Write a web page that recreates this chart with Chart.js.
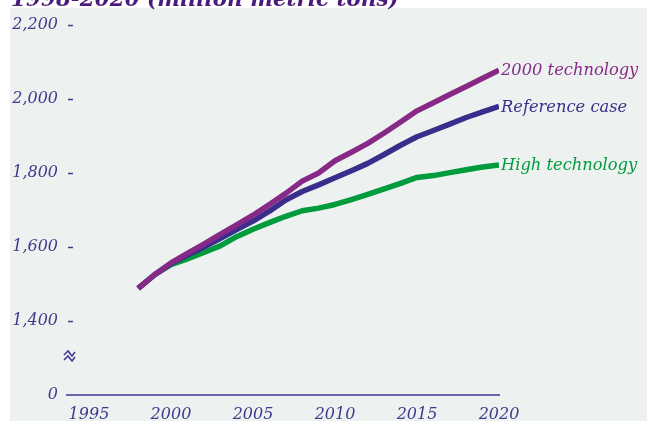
<!DOCTYPE html>
<html>
<head>
<meta charset="utf-8">
<script src="https://cdn.jsdelivr.net/npm/chart.js@4.4.1/dist/chart.umd.min.js"></script>
<style>
  html, body { margin: 0; padding: 0; background: #ffffff; }
  #wrap { width: 647px; height: 421px; position: relative; }
</style>
</head>
<body>
<div id="wrap"><canvas id="chart" width="647" height="421"></canvas></div>
<script>
// values (million metric tons)
var years = [1998,1999,2000,2001,2002,2003,2004,2005,2006,2007,2008,2009,2010,2011,2012,2013,2014,2015,2016,2017,2018,2019,2020]
var tech2000 = [1488,1525,1557,1583,1608,1634,1660,1686,1715,1745,1778,1800,1833,1856,1880,1908,1938,1968,1990,2012,2034,2056,2078]
var reference = [1488,1525,1555,1578,1600,1623,1647,1670,1697,1727,1750,1768,1787,1806,1826,1850,1875,1898,1915,1932,1950,1965,1980]
var highTech = [1488,1525,1552,1568,1585,1603,1628,1648,1666,1683,1698,1705,1715,1728,1742,1757,1772,1788,1793,1801,1809,1816,1822]
var seriesNames = ["2000 technology", "Reference case", "High technology"]
var xTicks = [1995,2000,2005,2010,2015,2020]
var yTicks = [1200,1400,1600,1800,2000,2200]
var titleText = "1998-2020 (million metric tons)"

var colors = ["#872a87", "#3b2d8b", "#009b3c"]
var textColor = "#3f3a8c"
var serif = "'DejaVu Serif', serif"

function pts(vals){
    return vals.map(function(v, i){ return {x: years[i], y: v} })
}

var decor = {
    id: "decor",
    beforeDraw: function(chart){
        var c = chart.ctx
        c.save()
        c.fillStyle = "#ffffff"
        c.fillRect(0, 0, chart.width, chart.height)
        c.fillStyle = "#edf2f1"
        c.fillRect(10, 8, chart.width - 10, chart.height - 8)
        c.restore()
    },
    afterDraw: function(chart){
        var c = chart.ctx
        var ya = chart.scales.y
        var area = chart.chartArea
        c.save()
        // title, cut by the top edge
        c.fillStyle = "#4b1b7c"
        c.font = "italic bold 21.5px " + serif
        c.textBaseline = "alphabetic"
        c.fillText(titleText, 11, 6)
        // y tick dashes
        c.strokeStyle = textColor
        c.lineWidth = 1.5
        yTicks.forEach(function(v){
            if (v === 1200) return
            var y = Math.round(ya.getPixelForValue(v)) + 0.5
            c.beginPath()
            c.moveTo(area.left + 1, y)
            c.lineTo(area.left + 6, y)
            c.stroke()
        })
        // axis break sign, two small zigzags
        var bx = area.left - 3
        var by = ya.getPixelForValue(1300) - 7
        c.lineWidth = 1.6
        c.lineJoin = "miter"
        for (var k = 0; k < 2; k++) {
            var oy = by + k * 5
            c.beginPath()
            c.moveTo(bx, oy + 4)
            c.lineTo(bx + 4, oy)
            c.lineTo(bx + 8, oy + 5)
            c.lineTo(bx + 11, oy + 1)
            c.stroke()
        }
        c.restore()
        // series labels at line ends
        c.save()
        c.font = "italic 16.3px " + serif
        c.textBaseline = "middle"
        chart.data.datasets.forEach(function(ds, i){
            var meta = chart.getDatasetMeta(i)
            var p = meta.data[meta.data.length - 1]
            c.fillStyle = colors[i]
            c.fillText(seriesNames[i], p.x + 2, p.y + 1)
        })
        c.restore()
    }
}

new Chart(document.getElementById("chart"), {
    type: "line",
    data: {
        datasets: [
            {label: seriesNames[0], data: pts(tech2000), borderColor: colors[0]},
            {label: seriesNames[1], data: pts(reference), borderColor: colors[1]},
            {label: seriesNames[2], data: pts(highTech), borderColor: colors[2]}
        ]
    },
    options: {
        responsive: false,
        animation: false,
        devicePixelRatio: 1,
        layout: { padding: { top: 25, right: 148, bottom: 0, left: 0 } },
        elements: {
            line: { borderWidth: 5.5, tension: 0, borderCapStyle: "butt", borderJoinStyle: "round" },
            point: { radius: 0 }
        },
        plugins: {
            legend: { display: false },
            tooltip: { enabled: false }
        },
        scales: {
            x: {
                type: "linear",
                min: 1993.66,
                max: 2020,
                afterBuildTicks: function(s){ s.ticks = xTicks.map(function(v){ return {value: v} }) },
                afterFit: function(s){ s.height = 26 },
                grid: { display: false, drawTicks: false },
                border: { display: true, color: "#6a65aa", width: 2 },
                ticks: {
                    color: textColor,
                    padding: 10,
                    maxRotation: 0,
                    font: { family: serif, size: 16, style: "italic" },
                    callback: function(v){ return String(v) }
                }
            },
            y: {
                min: 1200,
                max: 2200,
                afterBuildTicks: function(s){ s.ticks = yTicks.map(function(v){ return {value: v} }) },
                afterFit: function(s){ s.width = 67 },
                grid: { display: false, drawTicks: false },
                border: { display: false },
                ticks: {
                    color: textColor,
                    padding: 9,
                    font: { family: serif, size: 16, style: "italic" },
                    callback: function(v){ return v === 1200 ? "0" : v.toLocaleString("en-US") }
                }
            }
        }
    },
    plugins: [decor]
})
</script>
</body>
</html>
